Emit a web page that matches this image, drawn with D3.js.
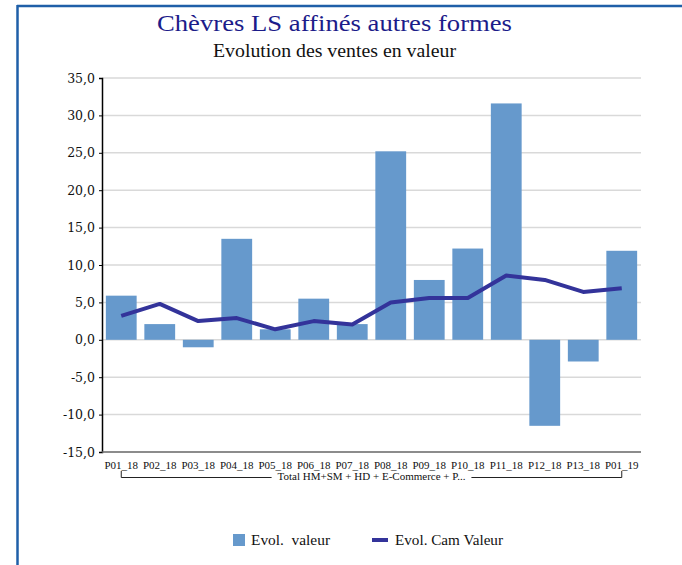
<!DOCTYPE html>
<html>
<head>
<meta charset="utf-8">
<script src="https://cdn.jsdelivr.net/npm/d3@7"></script>
<style>
  body { margin: 0; background: #fff; }
  svg { display: block; }
</style>
</head>
<body>
<svg id="chart" width="682" height="565"></svg>
<script>
// data
let periods = ['P01_18','P02_18','P03_18','P04_18','P05_18','P06_18','P07_18','P08_18','P09_18','P10_18','P11_18','P12_18','P13_18','P01_19'];
let evolValeur = [5.9, 2.1, -1.0, 13.5, 1.4, 5.5, 2.1, 25.2, 8.0, 12.2, 31.6, -11.5, -2.9, 11.9];
let evolCam = [3.2, 4.8, 2.5, 2.9, 1.4, 2.5, 2.05, 5.0, 5.6, 5.6, 8.6, 8.0, 6.4, 6.9];
let yTicks = [-15, -10, -5, 0, 5, 10, 15, 20, 25, 30, 35];
let groupLabel = 'Total HM+SM + HD + E-Commerce + P...';

let svg = d3.select('#chart');
let plotLeft = 102, plotRight = 641, plotTop = 78, plotBottom = 452;

// frame
svg.append('line').attr('x1', 17.5).attr('x2', 17.5).attr('y1', 5).attr('y2', 565)
  .attr('stroke', '#1f5fa8').attr('stroke-width', 2.5);
svg.append('line').attr('x1', 17).attr('x2', 682).attr('y1', 6).attr('y2', 6)
  .attr('stroke', '#1f5fa8').attr('stroke-width', 2.5);

// stretch serif text a bit, the original font is wider than Liberation Serif
function serifText(xp, yp, size, fill, txt, len, anchor) {
  return svg.append('text').attr('x', xp).attr('y', yp).attr('text-anchor', anchor || 'start')
    .style('font-family', 'Liberation Serif').style('font-size', size + 'px').attr('fill', fill)
    .attr('textLength', len).attr('lengthAdjust', 'spacingAndGlyphs')
    .style('white-space', 'pre').text(txt);
}

serifText(334.5, 31, 23, '#1c1c8a', 'Chèvres LS affinés autres formes', 355, 'middle');
serifText(334.5, 57, 18, '#111', 'Evolution des ventes en valeur', 243, 'middle');

let x = d3.scaleBand().domain(periods).range([plotLeft, plotRight]).paddingInner(0.2).paddingOuter(0.1);
let y = d3.scaleLinear().domain([-15, 35]).range([plotBottom, plotTop]);

// gridlines
svg.append('g').selectAll('line').data(yTicks.filter(d => d !== -15)).enter().append('line')
  .attr('x1', plotLeft).attr('x2', plotRight)
  .attr('y1', d => y(d)).attr('y2', d => y(d))
  .attr('stroke', '#d9d9d9').attr('stroke-width', 1.5);

// bars
svg.append('g').selectAll('rect').data(evolValeur).enter().append('rect')
  .attr('x', (d, i) => x(periods[i]))
  .attr('width', x.bandwidth())
  .attr('y', d => y(Math.max(0, d)))
  .attr('height', d => Math.abs(y(d) - y(0)))
  .attr('fill', '#6699cc');

// line
let line = d3.line().x((d, i) => x(periods[i]) + x.bandwidth() / 2).y(d => y(d));
svg.append('path').datum(evolCam).attr('d', line)
  .attr('fill', 'none').attr('stroke', '#33339a').attr('stroke-width', 4)
  .attr('stroke-linejoin', 'round');

// axes
let yAxis = svg.append('g').attr('transform', 'translate(' + plotLeft + ',0)')
  .call(d3.axisLeft(y).tickValues(yTicks).tickSize(3).tickFormat(d => d3.format('.1f')(d).replace('.', ',').replace('−', '-')));
yAxis.select('.domain').attr('stroke', '#000').attr('stroke-width', 1.5);
yAxis.selectAll('text').style('font-family', 'DejaVu Serif').style('font-size', '12.5px').attr('fill', '#111').attr('x', -7);

svg.append('line').attr('x1', plotLeft).attr('x2', plotRight).attr('y1', plotBottom).attr('y2', plotBottom)
  .attr('stroke', '#666').attr('stroke-width', 1.5);

svg.append('g').selectAll('text').data(periods).enter().append('text')
  .attr('x', d => x(d) + x.bandwidth() / 2).attr('y', 469).attr('text-anchor', 'middle')
  .style('font-family', 'Liberation Serif').style('font-size', '11px').attr('fill', '#111')
  .text(d => d);

// group bracket
let bx0 = x(periods[0]) + x.bandwidth() / 2, bx1 = x(periods[periods.length - 1]) + x.bandwidth() / 2;
let mid = (bx0 + bx1) / 2;
let gl = svg.append('text').attr('x', mid).attr('y', 480).attr('text-anchor', 'middle')
  .style('font-family', 'Liberation Serif').style('font-size', '11px').attr('fill', '#111')
  .text(groupLabel);
let tw = gl.node().getComputedTextLength();
svg.append('path')
  .attr('d', 'M' + bx0 + ',471V477.5H' + (mid - tw / 2 - 6) + 'M' + (mid + tw / 2 + 6) + ',477.5H' + bx1 + 'V471')
  .attr('fill', 'none').attr('stroke', '#222').attr('stroke-width', 1);

// legend
svg.append('rect').attr('x', 233).attr('y', 534).attr('width', 12).attr('height', 12).attr('fill', '#6699cc');
serifText(251, 545, 14, '#111', 'Evol.  valeur', 79);
svg.append('line').attr('x1', 372).attr('x2', 388).attr('y1', 540).attr('y2', 540)
  .attr('stroke', '#33339a').attr('stroke-width', 4);
serifText(395, 545, 14, '#111', 'Evol. Cam Valeur', 108);
</script>
</body>
</html>
